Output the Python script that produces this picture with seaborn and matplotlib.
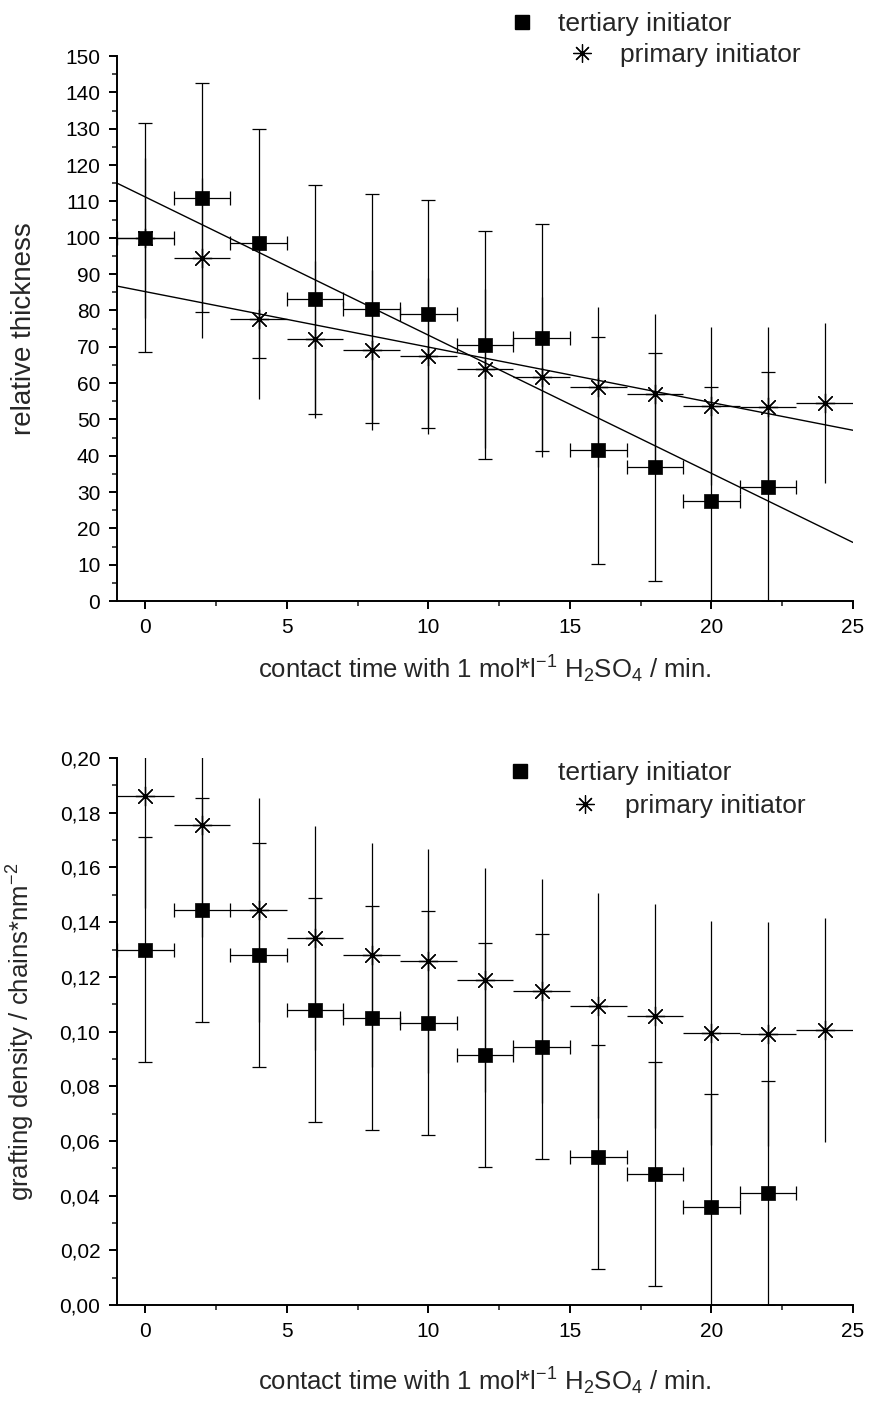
import numpy as np
import pandas as pd
import matplotlib
matplotlib.use("Agg")
import matplotlib.pyplot as plt
import seaborn as sns
from matplotlib.lines import Line2D
from matplotlib.ticker import MultipleLocator, FuncFormatter

# contact time (min) for both initiator series
time_tertiary = [0, 2, 4, 6, 8, 10, 12, 14, 16, 18, 20, 22]
time_primary = [0, 2, 4, 6, 8, 10, 12, 14, 16, 18, 20, 22, 24]
time_err_tertiary = [1, 1, 1, 1, 1, 1, 1, 1, 1, 1, 1, 1]
time_err_primary = [1, 1, 1, 1, 1, 1, 1, 1, 1, 1, 1, 1, 1]

# relative thickness (%)
thick_tertiary = [100, 111, 98.5, 83, 80.5, 79, 70.5, 72.5, 41.5, 37, 27.5, 31.5]
thick_tertiary_err = [31.5, 31.5, 31.5, 31.5, 31.5, 31.5, 31.3, 31.3, 31.3, 31.4, 31.4, 31.5]
thick_primary = [100, 94.5, 77.5, 72, 69, 67.5, 64, 61.7, 59, 57, 53.7, 53.5, 54.4]
thick_primary_err = [22, 22, 22, 21.5, 22, 21.5, 22, 22, 22, 22, 21.8, 21.8, 22]

# grafting density (chains / nm^2)
dens_tertiary = [0.130, 0.1445, 0.128, 0.108, 0.105, 0.103, 0.0915, 0.0945, 0.054, 0.048, 0.036, 0.041]
dens_tertiary_err = [0.041, 0.041, 0.041, 0.041, 0.041, 0.041, 0.041, 0.041, 0.041, 0.041, 0.041, 0.041]
dens_primary = [0.186, 0.1755, 0.1445, 0.1343, 0.128, 0.1257, 0.1188, 0.1148, 0.1095, 0.1056, 0.0996, 0.099, 0.1007]
dens_primary_err = [0.041, 0.041, 0.041, 0.041, 0.041, 0.041, 0.041, 0.041, 0.041, 0.041, 0.041, 0.041, 0.041]

label_tertiary = "tertiary initiator"
label_primary = "primary initiator"
xlabel = "contact time with 1 mol*l$^{-1}$ H$_2$SO$_4$ / min."
ylabel_top = "relative thickness"
ylabel_bottom = "grafting density / chains*nm$^{-2}$"

sns.set_theme(style="ticks")
plt.rcParams["font.family"] = ["Liberation Sans", "DejaVu Sans"]
plt.rcParams["mathtext.default"] = "regular"
plt.rcParams["axes.linewidth"] = 1.4

TICK_FS = 15
XLABEL_FS = 18.5
LEGEND_FS = 19
ASTERISK = (8, 2, 0)

fig = plt.figure(figsize=(8.71, 14.01), dpi=100)
ax_top = fig.add_axes([0.1343, 0.571, 0.845, 0.389])
ax_bot = fig.add_axes([0.1343, 0.0685, 0.845, 0.3904])


def draw_panel(ax, y_ter, e_ter, y_pri, e_pri):
    ax.errorbar(time_tertiary, y_ter, yerr=e_ter, xerr=time_err_tertiary,
                fmt="none", ecolor="black", elinewidth=0.9, capsize=5,
                capthick=0.9, zorder=2)
    ax.errorbar(time_primary, y_pri, yerr=e_pri, xerr=time_err_primary,
                fmt="none", ecolor="black", elinewidth=0.9, capsize=0, zorder=2)
    sns.scatterplot(x=time_primary, y=y_pri, ax=ax, marker=ASTERISK, s=190,
                    color="black", linewidth=0.9, zorder=3, legend=False)
    sns.scatterplot(x=time_tertiary, y=y_ter, ax=ax, marker="s", s=115,
                    color="black", edgecolor="black", linewidth=0.5,
                    zorder=4, legend=False)


def style_axes(ax, ymax, ymajor, yminor, fmt, xpad):
    ax.set_xlim(-1, 25)
    ax.set_ylim(0, ymax)
    sns.despine(ax=ax)
    ax.xaxis.set_major_locator(MultipleLocator(5))
    ax.xaxis.set_minor_locator(MultipleLocator(2.5))
    ax.yaxis.set_major_locator(MultipleLocator(ymajor))
    ax.yaxis.set_minor_locator(MultipleLocator(yminor))
    ax.yaxis.set_major_formatter(FuncFormatter(fmt))
    ax.tick_params(which="major", direction="out", length=6, width=1.4,
                   labelsize=TICK_FS, colors="black", pad=6)
    ax.tick_params(which="minor", direction="out", length=3.5, width=1.2)
    ax.set_xlabel(xlabel, fontsize=XLABEL_FS, labelpad=xpad)
    for s in ax.spines.values():
        s.set_color("black")


# upper panel: relative thickness with linear fits
ax_top.set_xlim(-1, 25)
draw_panel(ax_top, thick_tertiary, thick_tertiary_err, thick_primary, thick_primary_err)
ax_top.set_xlim(-1, 25)
sns.regplot(x=time_tertiary, y=thick_tertiary, ax=ax_top, scatter=False, ci=None,
            truncate=False, color="black", line_kws={"lw": 1.0, "zorder": 1})
ax_top.set_xlim(-1, 25)
sns.regplot(x=time_primary[1:], y=thick_primary[1:], ax=ax_top, scatter=False, ci=None,
            truncate=False, color="black", line_kws={"lw": 1.0, "zorder": 1})
style_axes(ax_top, 150, 10, 5, lambda v, p: f"{v:.0f}", 12)
ax_top.set_ylabel(ylabel_top, fontsize=20)
ax_top.yaxis.set_label_coords(-0.108, 0.5)

# lower panel: grafting density
draw_panel(ax_bot, dens_tertiary, dens_tertiary_err, dens_primary, dens_primary_err)
style_axes(ax_bot, 0.20, 0.02, 0.01, lambda v, p: f"{v:.2f}".replace(".", ","), 18)
ax_bot.set_ylabel(ylabel_bottom, fontsize=18.5)
ax_bot.yaxis.set_label_coords(-0.108, 0.5)


def add_key(marker, label, x_px, y_px, filled, gap_px):
    em = LEGEND_FS * 100 / 72
    if filled:
        h = Line2D([], [], ls="none", marker=marker, ms=10.5, color="black")
    else:
        h = Line2D([], [], ls="none", marker=marker, ms=13, color="black", mew=0.9)
    # text starts gap_px to the right of the marker centre
    pad = (em / 2 + gap_px - em) / em
    leg = fig.legend(handles=[h], labels=[label], loc="center left",
                     bbox_to_anchor=((x_px - em / 2) / 871, 1 - y_px / 1401),
                     bbox_transform=fig.transFigure, frameon=False,
                     fontsize=LEGEND_FS, handlelength=1.0, handletextpad=pad,
                     borderpad=0, borderaxespad=0)
    return leg


add_key("s", label_tertiary, 522, 24, True, 36)
add_key(ASTERISK, label_primary, 582, 55, False, 38)
add_key("s", label_tertiary, 520, 773, True, 38)
add_key(ASTERISK, label_primary, 585, 806, False, 40)

fig.savefig("out.png", dpi=100)
